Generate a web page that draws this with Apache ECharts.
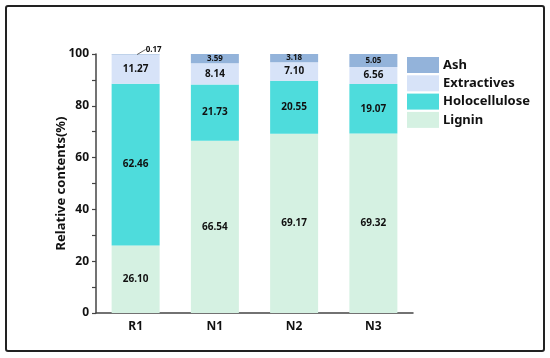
<!DOCTYPE html>
<html><head><meta charset="utf-8">
<script src="https://cdn.jsdelivr.net/npm/echarts@6/dist/echarts.min.js"></script>
<style>
html,body{margin:0;padding:0;background:#fff;}
#frame{position:absolute;left:5px;top:5px;width:536px;height:343px;border:2px solid #222;border-radius:3px;}
#c{position:absolute;left:0;top:0;width:550px;height:358px;}
</style></head>
<body>
<div id="frame"></div>
<div id="c"></div>
<script>
const categories = ['R1', 'N1', 'N2', 'N3'];
const lignin = [26.10, 66.54, 69.17, 69.32];
const holocellulose = [62.46, 21.73, 20.55, 19.07];
const extractives = [11.27, 8.14, 7.10, 6.56];
const ash = [0.17, 3.59, 3.18, 5.05];
const yTicks = [0, 20, 40, 60, 80, 100];

const font = '"Noto Sans", "Open Sans", sans-serif';
const chart = echarts.init(document.getElementById('c'), null, {renderer: 'canvas'});

function mk(name, data, color, fs) {
  return {
    name: name, type: 'bar', stack: 'total', data: data, barWidth: 48,
    itemStyle: {color: color},
    label: {show: true, position: 'inside', color: '#111', fontWeight: 'bold', fontSize: fs || 10, fontFamily: font,
      formatter: p => (p.value < 1 ? '' : p.value.toFixed(2))}
  };
}

// callout for the very thin R1 ash segment, anchored at the top of the R1 stack
const r1Top = lignin[0] + holocellulose[0] + extractives[0] + ash[0];

chart.setOption({
  animation: false,
  grid: {left: 96, right: 137, top: 54, bottom: 45},
  legend: {
    data: ['Ash', 'Extractives', 'Holocellulose', 'Lignin'],
    orient: 'vertical', left: 407, top: 57, padding: 0, itemWidth: 32, itemHeight: 16, itemGap: 2.3,
    textStyle: {fontSize: 13, fontWeight: 'bold', fontFamily: font, color: '#111', padding: [0,0,0,-1]},
    icon: 'rect'
  },
  xAxis: {
    type: 'category', data: categories,
    axisLine: {lineStyle: {color: '#444', width: 1.5}},
    axisTick: {show: false},
    axisLabel: {fontWeight: 'bold', fontSize: 12, fontFamily: font, color: '#111', margin: 8}
  },
  yAxis: {
    type: 'value', min: yTicks[0], max: yTicks[yTicks.length - 1], interval: 20,
    name: 'Relative contents(%)', nameLocation: 'middle', nameGap: 28, nameMoveOverlap: false,
    nameTextStyle: {fontWeight: 'bold', fontSize: 13, fontFamily: font, color: '#111'},
    axisLine: {show: true, lineStyle: {color: '#444', width: 1.5}},
    axisTick: {show: true, length: 4, lineStyle: {color: '#444', width: 1.2}},
    minorTick: {show: true, splitNumber: 2, length: 4, lineStyle: {color: '#444', width: 1.2}},
    splitLine: {show: false},
    axisLabel: {fontWeight: 'bold', fontSize: 12, fontFamily: font, color: '#111', margin: 7}
  },
  series: [
    mk('Lignin', lignin, '#d5f1e2'),
    mk('Holocellulose', holocellulose, '#4edcdc'),
    mk('Extractives', extractives, '#d7e3f8'),
    mk('Ash', ash, '#93b3da', 8),
    {
      type: 'custom', name: 'callout', silent: true, z: 10,
      data: [[0, r1Top, ash[0]]],
      renderItem: function (params, api) {
        const p = api.coord([api.value(0), api.value(1)]);
        return {
          type: 'group',
          children: [
            {type: 'line', shape: {x1: p[0] + 1.5, y1: p[1] + 0.5, x2: p[0] + 10, y2: p[1] - 4.5},
             style: {stroke: '#333', lineWidth: 0.8}},
            {type: 'text', x: p[0] + 10, y: p[1] - 4.5,
             style: {text: api.value(2).toFixed(2), fill: '#111', font: 'bold 8px ' + font,
               textAlign: 'left', textVerticalAlign: 'middle'}}
          ]
        };
      }
    }
  ]
});
</script>
</body></html>
